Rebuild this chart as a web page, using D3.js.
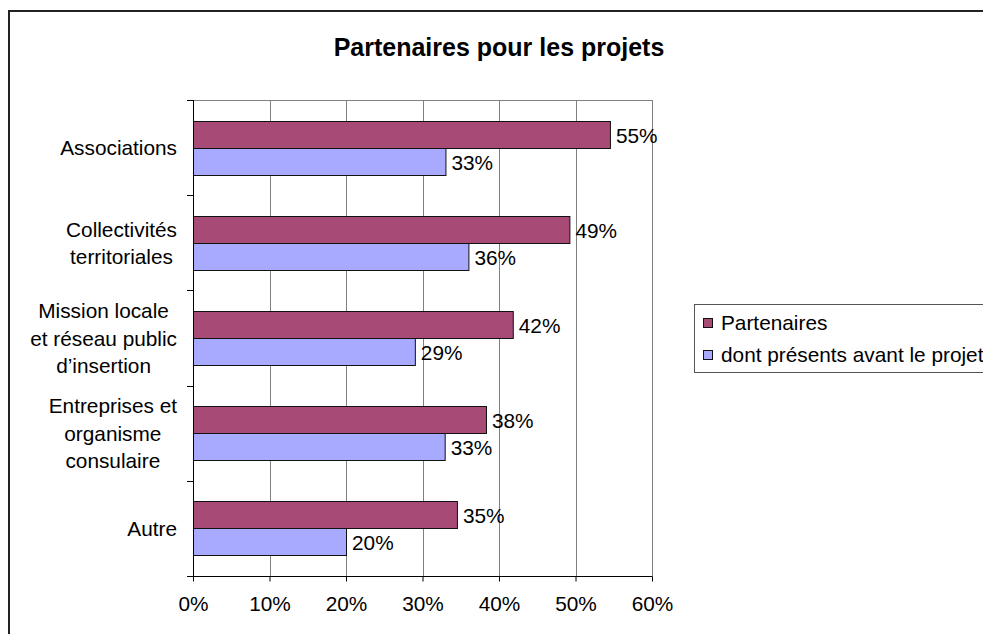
<!DOCTYPE html>
<html>
<head>
<meta charset="utf-8">
<script src="https://cdn.jsdelivr.net/npm/d3@7"></script>
<style>
  body { margin: 0; background: #fff; }
  svg { display: block; font-family: "Liberation Sans", Arial, sans-serif; }
</style>
</head>
<body>
<svg width="983" height="634"></svg>
<script>

// categories (lines of each label) and values
var categories = [
  ["Associations"],
  ["Collectivités", "territoriales"],
  ["Mission locale", "et réseau public", "d\u2019insertion"],
  ["Entreprises et", "organisme", "consulaire"],
  ["Autre"]
];
var partenaires = [54.5, 49.2, 41.8, 38.3, 34.5];
var avantProjet = [33.0, 36.0, 29.0, 32.9, 20.0];
var seriesNames = ["Partenaires", "dont présents avant le projet"];
var xTicks = [0, 10, 20, 30, 40, 50, 60];

var colors = ["#A84A76", "#A8AAFF"];
var FONT = 20.8;

var svg = d3.select('svg');

var plotLeft = 193, plotRight = 652, plotTop = 100, plotBottom = 576;

// outer chart border (runs off the right/bottom edges)
svg.append('rect')
  .attr('x', 9).attr('y', 11)
  .attr('width', 1000).attr('height', 700)
  .attr('fill', 'none')
  .attr('stroke', '#222')
  .attr('stroke-width', 2);

svg.append('text')
  .attr('x', 499).attr('y', 56)
  .attr('text-anchor', 'middle')
  .attr('font-size', 25)
  .attr('font-weight', 'bold')
  .text('Partenaires pour les projets');

var x = d3.scaleLinear().domain([0, 60]).range([plotLeft, plotRight]);
var y = d3.scaleBand().domain(d3.range(categories.length)).range([plotTop, plotBottom]);

// grid
var grid = svg.append('g');
grid.selectAll('line').data(xTicks.slice(1)).enter().append('line')
  .attr('x1', function(d){ return Math.round(x(d)) + 0.5; })
  .attr('x2', function(d){ return Math.round(x(d)) + 0.5; })
  .attr('y1', plotTop).attr('y2', plotBottom)
  .attr('stroke', '#808080');
grid.append('line')
  .attr('x1', plotLeft).attr('x2', plotRight + 0.5)
  .attr('y1', plotTop + 0.5).attr('y2', plotTop + 0.5)
  .attr('stroke', '#808080');

// bars
var barH = 27;
svg.append('g').selectAll('g')
  .data(categories)
  .enter()
  .append('g')
  .each(function(d, i){
    var g = d3.select(this);
    var mid = y(i) + y.bandwidth() / 2;
    var vals = [partenaires[i], avantProjet[i]];
    vals.forEach(function(v, k){
      var y0 = Math.round(mid - barH + k * barH) + 0.5;
      g.append('rect')
        .attr('x', plotLeft + 0.5)
        .attr('y', y0)
        .attr('width', x(v) - plotLeft)
        .attr('height', barH)
        .attr('fill', colors[k])
        .attr('stroke', '#111')
        .attr('stroke-width', 1);
      g.append('text')
        .attr('x', x(v) + 6)
        .attr('y', y0 + barH / 2 + 7.5)
        .attr('font-size', FONT)
        .text(Math.round(v) + '%');
    });

    // category label: centered block, right edge at ~177
    var lab = g.append('text')
      .attr('font-size', FONT)
      .attr('text-anchor', 'middle');
    var lineH = 27.5;
    var baseY = mid + 7.5 - (d.length - 1) * lineH / 2;
    d.forEach(function(line, j){
      lab.append('tspan').attr('y', baseY + j * lineH).text(line);
    });
    var maxW = 0;
    lab.selectAll('tspan').each(function(){ maxW = Math.max(maxW, this.getComputedTextLength()); });
    lab.selectAll('tspan').attr('x', 177 - maxW / 2);
  });

// y axis
var yAxis = svg.append('g');
yAxis.append('line')
  .attr('x1', plotLeft + 0.5).attr('x2', plotLeft + 0.5)
  .attr('y1', plotTop).attr('y2', plotBottom)
  .attr('stroke', '#000');
yAxis.selectAll('.tk').data(d3.range(categories.length + 1)).enter().append('line')
  .attr('class', 'tk')
  .attr('x1', plotLeft - 6).attr('x2', plotLeft)
  .attr('y1', function(d){ return Math.round(plotTop + d * y.step()) + 0.5; })
  .attr('y2', function(d){ return Math.round(plotTop + d * y.step()) + 0.5; })
  .attr('stroke', '#000');

// x axis
var xAxis = svg.append('g')
  .attr('transform', 'translate(0,' + (plotBottom + 0.5) + ')')
  .call(d3.axisBottom(x).tickValues(xTicks).tickSize(5).tickSizeOuter(0).tickPadding(15)
    .tickFormat(function(d){ return d + '%'; }));
xAxis.select('.domain').attr('d', 'M' + (plotLeft - 6) + ',0H' + (plotRight + 0.5));
xAxis.selectAll('.tick line').attr('stroke', '#000');
xAxis.selectAll('.tick text')
  .attr('font-size', FONT)
  .attr('font-family', '"Liberation Sans", Arial, sans-serif')
  .attr('fill', '#000');

// legend
var legend = svg.append('g');
legend.append('rect')
  .attr('x', 694.5).attr('y', 304.5)
  .attr('width', 400).attr('height', 68)
  .attr('fill', '#fff')
  .attr('stroke', '#555');
seriesNames.forEach(function(name, k){
  var cy = 323 + k * 32;
  legend.append('rect')
    .attr('x', 703.5).attr('y', cy - 4.5)
    .attr('width', 9).attr('height', 9)
    .attr('fill', colors[k])
    .attr('stroke', '#111');
  legend.append('text')
    .attr('x', 721).attr('y', cy + 7)
    .attr('font-size', FONT)
    .text(name);
});

</script>
</body>
</html>
